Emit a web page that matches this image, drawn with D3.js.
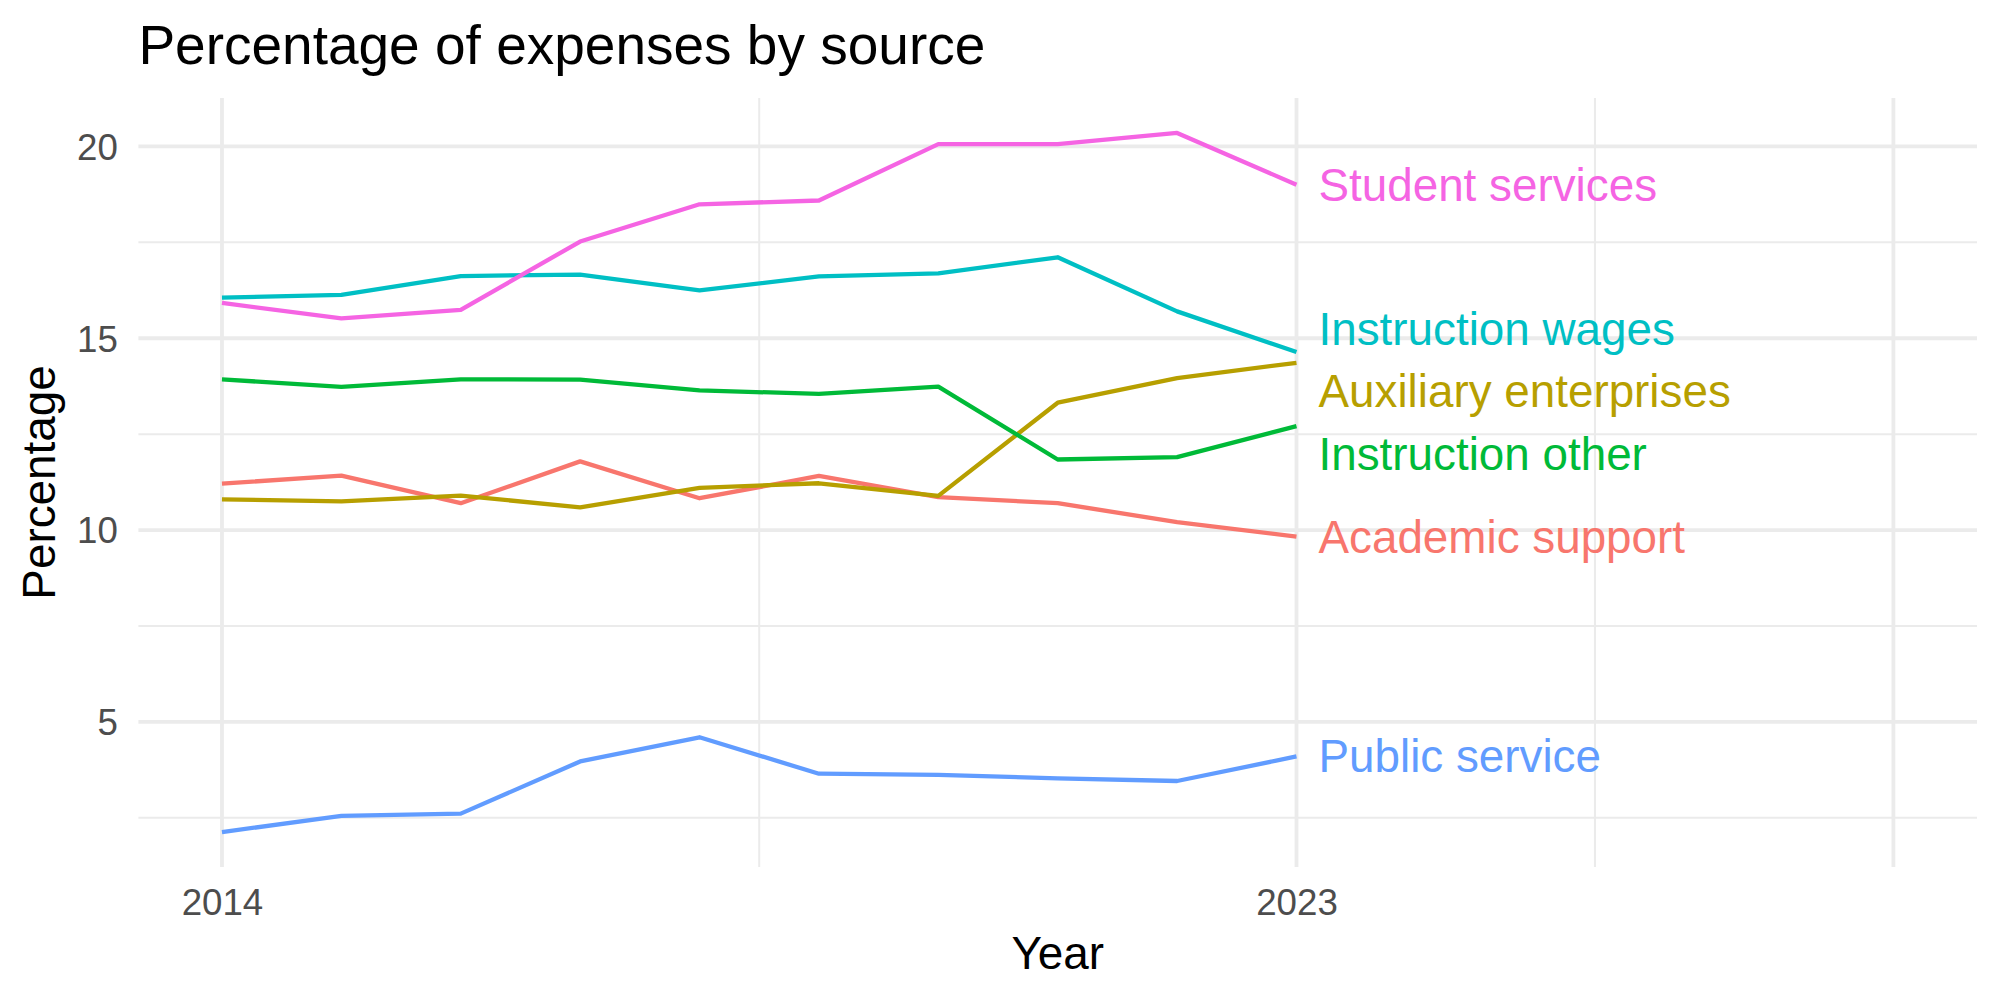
<!DOCTYPE html>
<html>
<head>
<meta charset="utf-8">
<script src="https://cdn.jsdelivr.net/npm/d3@7"></script>
<style>
  body { margin: 0; background: #fff; }
  text { font-family: "Liberation Sans", Arial, sans-serif; }
</style>
</head>
<body>
<script>
// Chart data
const years = [2014, 2015, 2016, 2017, 2018, 2019, 2020, 2021, 2022, 2023];
const seriesNames = ["Academic support", "Auxiliary enterprises", "Instruction other",
                     "Instruction wages", "Public service", "Student services"];
const academicSupport      = [11.21, 11.42, 10.70, 11.79, 10.83, 11.41, 10.86, 10.70, 10.21, 9.83];
const auxiliaryEnterprises = [10.80, 10.75, 10.90, 10.59, 11.10, 11.22, 10.89, 13.32, 13.96, 14.36];
const instructionOther     = [13.93, 13.73, 13.93, 13.92, 13.64, 13.55, 13.74, 11.84, 11.90, 12.71];
const instructionWages     = [16.06, 16.13, 16.62, 16.66, 16.25, 16.61, 16.69, 17.11, 15.70, 14.64];
const publicService        = [2.13, 2.55, 2.61, 3.97, 4.60, 3.65, 3.62, 3.53, 3.46, 4.10];
const studentServices      = [15.92, 15.52, 15.74, 17.52, 18.49, 18.59, 20.06, 20.06, 20.35, 19.00];
const xLimits = [2014, 2028];
const xTicks = [2014, 2023, 2028];
const xTickLabels = ["2014", "2023", ""];
const yTicks = [5, 10, 15, 20];

const seriesValues = [academicSupport, auxiliaryEnterprises, instructionOther,
                      instructionWages, publicService, studentServices];
const palette = ["#F8766D", "#B79F00", "#00BA38", "#00BFC4", "#619CFF", "#F564E3"];

const series = seriesNames.map((name, i) => ({
  name: name,
  color: palette[i],
  values: years.map((yr, j) => ({ year: yr, value: seriesValues[i][j] }))
}));

// Layout
const W = 2000, H = 1000;
const panel = { left: 138.4, right: 1977, top: 98, bottom: 867 };

const svg = d3.select("body").append("svg")
  .attr("width", W)
  .attr("height", H);

svg.append("rect").attr("width", W).attr("height", H).attr("fill", "#fff");

// scales with ggplot-like 5% expansion
function expand(ext) {
  const d = (ext[1] - ext[0]) * 0.05;
  return [ext[0] - d, ext[1] + d];
}
const allValues = seriesValues.flat();
const x = d3.scaleLinear().domain(expand(xLimits)).range([panel.left, panel.right]);
const y = d3.scaleLinear().domain(expand(d3.extent(allValues))).range([panel.bottom, panel.top]);

// grid
const grid = svg.append("g");
const yMinor = d3.range(2.5, 25, 5).filter(v => v >= y.domain()[0] && v <= y.domain()[1]);
const xMinor = d3.pairs(xTicks).map(p => (p[0] + p[1]) / 2);

grid.selectAll(".ymin").data(yMinor).enter().append("line")
  .attr("x1", panel.left).attr("x2", panel.right)
  .attr("y1", d => y(d)).attr("y2", d => y(d))
  .attr("stroke", "#EBEBEB").attr("stroke-width", 2);
grid.selectAll(".xmin").data(xMinor).enter().append("line")
  .attr("y1", panel.top).attr("y2", panel.bottom)
  .attr("x1", d => x(d)).attr("x2", d => x(d))
  .attr("stroke", "#EBEBEB").attr("stroke-width", 2);
grid.selectAll(".ymaj").data(yTicks).enter().append("line")
  .attr("x1", panel.left).attr("x2", panel.right)
  .attr("y1", d => y(d)).attr("y2", d => y(d))
  .attr("stroke", "#EBEBEB").attr("stroke-width", 3.8);
grid.selectAll(".xmaj").data(xTicks).enter().append("line")
  .attr("y1", panel.top).attr("y2", panel.bottom)
  .attr("x1", d => x(d)).attr("x2", d => x(d))
  .attr("stroke", "#EBEBEB").attr("stroke-width", 3.8);

// axes (tick text only, theme_minimal style)
const yAxis = d3.axisLeft(y).tickValues(yTicks).tickSize(0).tickPadding(20.6);
svg.append("g")
  .attr("transform", `translate(${panel.left},0)`)
  .call(yAxis)
  .call(g => g.select(".domain").remove())
  .selectAll("text")
  .attr("fill", "#4D4D4D")
  .attr("dy", "0.35em")
  .style("font-size", "36.7px")
  .style("font-family", "'Liberation Sans', Arial, sans-serif");

const xAxis = d3.axisBottom(x).tickValues(xTicks)
  .tickFormat((d, i) => xTickLabels[i]).tickSize(0).tickPadding(20.6);
svg.append("g")
  .attr("transform", `translate(0,${panel.bottom})`)
  .call(xAxis)
  .call(g => g.select(".domain").remove())
  .selectAll("text")
  .attr("fill", "#4D4D4D")
  .attr("dy", "0.76em")
  .style("font-size", "36.7px")
  .style("font-family", "'Liberation Sans', Arial, sans-serif");

// lines
const line = d3.line().x(d => x(d.year)).y(d => y(d.value));
svg.append("g").selectAll("path").data(series).enter().append("path")
  .attr("d", d => line(d.values))
  .attr("fill", "none")
  .attr("stroke", d => d.color)
  .attr("stroke-width", 4.3)
  .attr("stroke-linejoin", "round");

// end labels, pushed apart so they do not overlap
// (the lower label gives way more than the upper one)
const minGap = 1.625;
const upShare = 0.35;
const labels = series.map(s => ({ s: s, v: s.values[s.values.length - 1].value }));
labels.sort((a, b) => b.v - a.v);
labels.forEach(l => l.pos = l.v);
for (let it = 0; it < 300; it++) {
  for (let i = 0; i < labels.length - 1; i++) {
    const gap = labels[i].pos - labels[i + 1].pos;
    if (gap < minGap) {
      const need = minGap - gap;
      labels[i].pos += need * upShare;
      labels[i + 1].pos -= need * (1 - upShare);
    }
  }
}
const lastYear = years[years.length - 1];
svg.append("g").selectAll("text").data(labels).enter().append("text")
  .attr("x", x(lastYear) + 22)
  .attr("y", d => y(d.pos))
  .attr("dy", "0.35em")
  .attr("fill", d => d.s.color)
  .style("font-size", "45.8px")
  .text(d => d.s.name);

// titles
svg.append("text")
  .attr("x", panel.left)
  .attr("y", 64)
  .attr("fill", "#000")
  .style("font-size", "55px")
  .text("Percentage of expenses by source");

svg.append("text")
  .attr("x", (panel.left + panel.right) / 2)
  .attr("y", 969)
  .attr("text-anchor", "middle")
  .attr("fill", "#000")
  .style("font-size", "45.8px")
  .text("Year");

svg.append("text")
  .attr("transform", `translate(55,${(panel.top + panel.bottom) / 2}) rotate(-90)`)
  .attr("text-anchor", "middle")
  .attr("fill", "#000")
  .style("font-size", "45.8px")
  .text("Percentage");
</script>
</body>
</html>
